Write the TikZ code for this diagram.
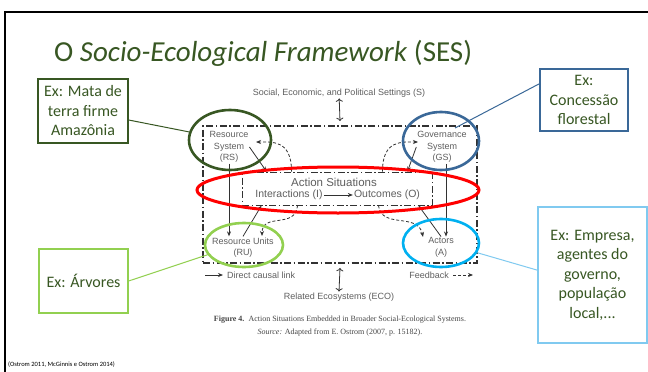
\documentclass[tikz,border=0pt]{standalone}
\usepackage{fontspec}
\setmainfont{Carlito}
\newfontfamily\figsans{Liberation Sans}
\newfontfamily\figserif{Liberation Serif}
\usetikzlibrary{shapes.geometric,arrows.meta}

\definecolor{sesgreen}{RGB}{56,87,35}
\definecolor{leafgreen}{RGB}{146,208,80}
\definecolor{govblue}{RGB}{58,104,152}
\definecolor{skyblue}{RGB}{128,202,240}
\definecolor{actcyan}{RGB}{0,176,240}
\definecolor{figtext}{RGB}{95,95,95}
\definecolor{figline}{RGB}{50,50,50}
\definecolor{capgray}{RGB}{70,70,70}

\begin{document}
\begin{tikzpicture}[x=1pt, y=-1pt,
    callout/.style={draw, line width=1.3pt, align=center, text=sesgreen, inner sep=0pt,
      font=\fontsize{16}{19.5}\selectfont},
    ring/.style={ellipse, draw, line width=2.6pt, inner sep=0pt},
    lab/.style={text=figtext, align=center, inner sep=1pt, font=\figsans\fontsize{9}{11.5}\selectfont},
    biglab/.style={lab, font=\figsans\fontsize{10.5}{13}\selectfont},
    link/.style={-{Stealth[length=5pt,width=4pt]}, line width=0.8pt, draw=figline},
    fb/.style={link, dash pattern=on 3pt off 2pt},
    outline/.style={draw=figline, dash pattern=on 7pt off 2.5pt on 1.5pt off 2.5pt}]

  \useasboundingbox (0,0) rectangle (648,372);
  \fill[white] (0,0) rectangle (648,372);

  % slide frame and title
  \draw[line width=2.5pt] (5,372) -- (5,12) -- (648,12);
  \node[anchor=base west, inner sep=0pt, text=sesgreen, font=\fontsize{29}{34}\selectfont]
    (title) at (54,61) {O \textit{Socio-Ecological Framework} (SES)};

  % the SES figure
  \node[lab] (settings) at (339,93) {Social, Economic, and Political Settings (S)};
  \node[outline, line width=1.8pt, minimum width=274, minimum height=137] (ses) at (340,194.5) {};
  \node[outline, line width=0.9pt, minimum width=190, minimum height=33] (as) at (337,188.5) {};
  \node[biglab, font=\figsans\fontsize{11.5}{13}\selectfont] (action) at (334,182) {Action Situations};
  \node[biglab] (inter) at (289,195) {Interactions (I)};
  \node[biglab] (outc) at (387,195) {Outcomes (O)};
  \draw[link] (inter) -- (outc);

  \node[lab] (rs) at (229,147) {Resource\\System\\(RS)};
  \node[lab] (gs) at (442,147) {Governance\\System\\(GS)};
  \node[lab] (ru) at (243,247.5) {Resource Units\\(RU)};
  \node[lab] (a) at (441,247.5) {Actors\\(A)};

  \draw[link, <->] (settings) -- ([yshift=4pt]ses.north);
  \draw[link] (rs.south) -- (rs.south |- ru.north);
  \draw[link] ([xshift=4pt]gs.south) -- ([xshift=4pt]gs.south |- a.north);
  \draw[link] (rs.east) -- ([xshift=25pt]as.north west);
  \draw[link] (gs.west) -- ([xshift=-25pt]as.north east);
  \draw[link] (ru.north) -- ([xshift=20pt]as.south west);
  \draw[link] (a.north) -- ([xshift=-14pt]as.south east);

  % feedback loops
  \coordinate (fbrs) at (256,142);
  \coordinate (fbgs) at (418,142);
  \coordinate (fbru) at (262,236);
  \coordinate (fba) at (423,237);
  \draw[fb] ([xshift=50pt]as.north west) .. controls +(0,-32) and (272,142) .. (fbrs);
  \draw[fb] ([xshift=-50pt]as.north east) .. controls +(0,-32) and (402,142) .. (fbgs);
  \draw[fb] ([xshift=56pt]as.south west) .. controls +(-2,24) and (262,212) .. (fbru);
  \draw[fb] ([xshift=-54pt]as.south east) .. controls +(3,24) and (418,212) .. (fba);

  % key and caption
  \node[lab, anchor=west] (direct) at (226,275) {Direct causal link};
  \draw[link] ([xshift=-21pt]direct.west) -- ([xshift=-3pt]direct.west);
  \node[lab, anchor=east] (fbkey) at (450,275) {Feedback};
  \draw[fb] ([xshift=3pt]fbkey.east) -- ([xshift=23pt]fbkey.east);
  \node[lab] (eco) at (339,297) {Related Ecosystems (ECO)};
  \draw[link, <->] ([yshift=-4pt]ses.south) -- (eco.north);
  \node[text=capgray, align=center, font=\figserif\fontsize{8}{12.5}\selectfont]
    (caption) at (340,326) {\textbf{Figure 4.}\ \ Action Situations Embedded in Broader Social-Ecological Systems.\\
    \textit{Source:} Adapted from E. Ostrom (2007, p. 15182).};

  % highlight rings
  \node[ring, draw=red, line width=3pt, minimum width=282, minimum height=46] (asring) at (338,190) {};
  \node[ring, draw=sesgreen, minimum width=82, minimum height=60] (rsring) at (230,140) {};
  \node[ring, draw=govblue, minimum width=76, minimum height=58] (gsring) at (441,141) {};
  \node[ring, draw=leafgreen, minimum width=78, minimum height=44] (ruring) at (244,245) {};
  \node[ring, draw=actcyan, minimum width=76, minimum height=48] (aring) at (441,243) {};

  % example boxes
  \node[callout, draw=sesgreen, minimum width=90, minimum height=64] (matabox) at (83,111)
    {Ex: Mata de\\terra firme\\Amazônia};
  \node[callout, draw=leafgreen, minimum width=89, minimum height=64] (arvbox) at (83.5,281)
    {Ex: Árvores};
  \node[callout, draw=govblue, minimum width=88, minimum height=62] (govbox) at (584,100)
    {Ex:\\Concessão\\florestal};
  \node[callout, draw=skyblue, minimum width=109, minimum height=136] (actbox) at (592.5,275)
    {Ex: Empresa,\\agentes do\\governo,\\população\\local,...};

  \coordinate (gstip) at (455,128);
  \draw[sesgreen, line width=1pt] (matabox) -- (rsring);
  \draw[leafgreen, line width=1pt] (arvbox.east) -- (ruring.195);
  \draw[govblue, line width=1pt] (govbox.160) -- (gstip);
  \draw[skyblue, line width=1pt] (actbox.175) -- (aring.-15);

  \node[anchor=base west, inner sep=0pt, font=\fontsize{6.5}{8}\selectfont]
    (cite) at (8,366) {(Ostrom 2011, McGinnis e Ostrom 2014)};
\end{tikzpicture}
\end{document}
